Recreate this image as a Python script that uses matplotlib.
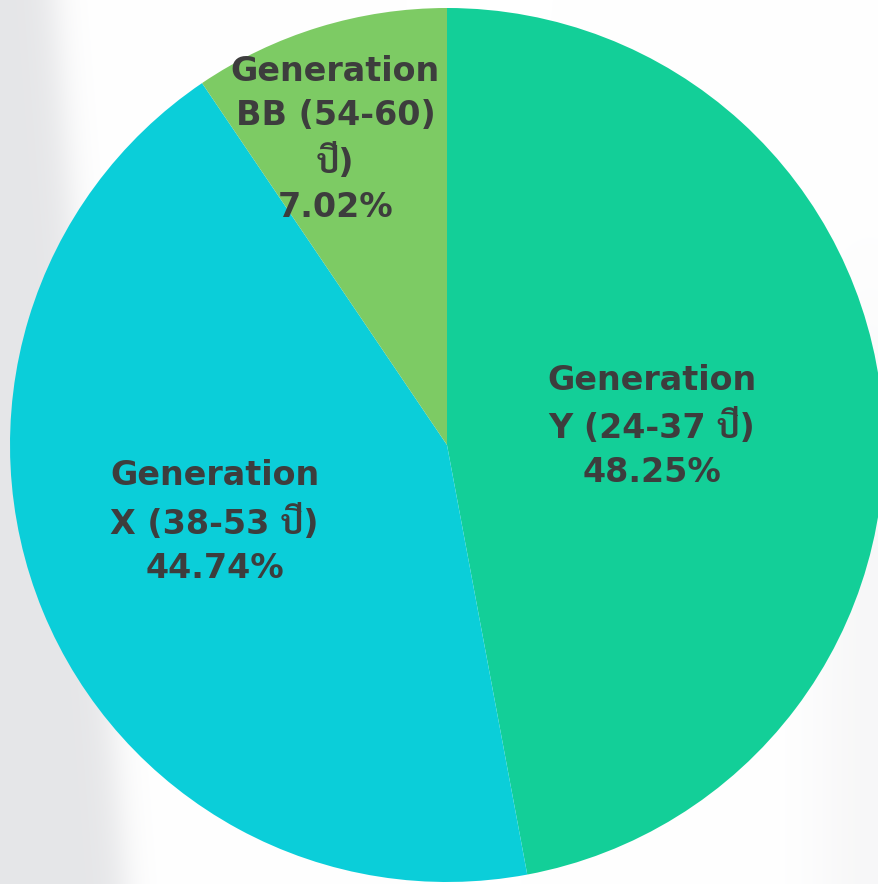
import matplotlib
matplotlib.use("Agg")
import numpy as np
import matplotlib.pyplot as plt
from matplotlib import font_manager

# slices, clockwise from 12 o'clock
groups = ["Y (24-37 ปี)", "X (38-53 ปี)", "BB (54-60)\nปี)"]
pct_labels = [48.25, 44.74, 7.02]
# wedge sizes (angles don't follow the printed %)
wedge_sizes = [47.06, 43.47, 9.47]
colors = ["#13CF98", "#0BCED9", "#7DCB64"]

# pick a Thai font with a real bold for the "ปี" bits
installed = set(f.name for f in font_manager.fontManager.ttflist)
thai = [n for n in ["Sarabun", "Niramit", "K2D", "Bai Jamjuree", "Chakra Petch",
                    "Noto Sans Thai Looped", "Noto Sans Thai"] if n in installed]
plt.rcParams["font.family"] = ["DejaVu Sans"] + thai[:1]

W, H = 879, 884
fig = plt.figure(figsize=(W / 100, H / 100), dpi=100)
ax = fig.add_axes([0, 0, 1, 1])

# faint washed-out photo behind the chart: grey band on the left, bluish white elsewhere
px = np.arange(W)[None, :]
py = np.arange(H)[:, None]
edge = 55 + 70 * py / H
shade = 0.10 / (1 + np.exp((px - edge) / 10.0))
shade = shade + 0.03 / (1 + np.exp(-(py - 350) / 60.0)) * np.exp(-((px - 870) / 60.0) ** 2)
bg = np.dstack([1 - shade * 1.0, 1 - shade * 0.98, 1 - shade * 0.9])
ax.imshow(np.clip(bg, 0, 1), extent=[0, W, 0, H], origin="upper", zorder=0, aspect="auto")

cx, cy, R = 447, H - 445, 437
wedges, _ = ax.pie(wedge_sizes, colors=colors, startangle=90, counterclock=False,
                   center=(cx, cy), radius=R, frame=True,
                   wedgeprops=dict(linewidth=0, antialiased=True))
ax.set_xlim(0, W)
ax.set_ylim(0, H)
ax.set_aspect("equal")
ax.axis("off")
for w in wedges:
    w.set_zorder(2)

label_r = [0.47, 0.56, 0.745]
label_shift = [0, -4, 3]
for w, g, p, r, s in zip(wedges, groups, pct_labels, label_r, label_shift):
    ang = np.deg2rad((w.theta1 + w.theta2) / 2 + s)
    tx = cx + r * R * np.cos(ang)
    ty = cy + r * R * np.sin(ang)
    ax.text(tx, ty, f"Generation\n{g}\n{p:.2f}%", ha="center", va="center",
            fontsize=24, fontweight="bold", color="#3D3D3D", linespacing=1.42, zorder=3)

fig.savefig("out.png", dpi=100)
